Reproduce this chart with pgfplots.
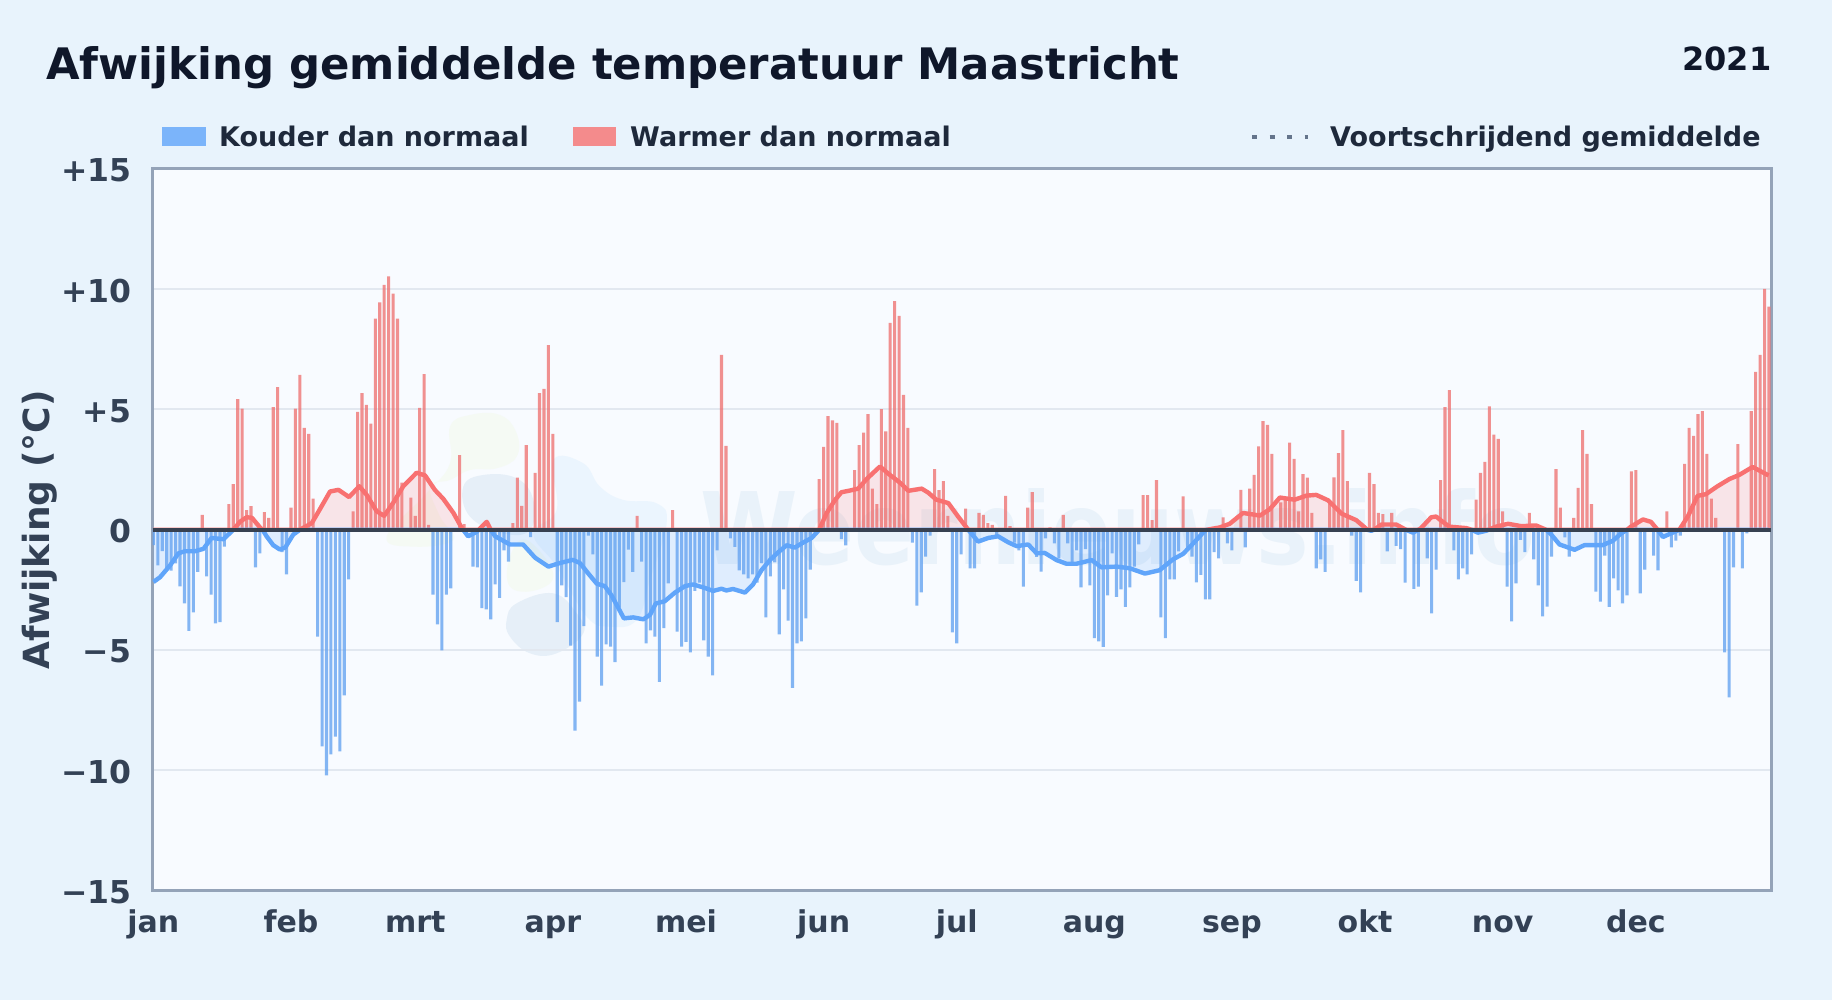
\documentclass[border=0pt]{standalone}
\usepackage{fontspec}
\usepackage{pgfplots}
\usepackage{pgfplotstable}
\pgfplotsset{compat=1.18}
\setmainfont{DejaVu Sans}[BoldFont={DejaVu Sans Bold}]
\definecolor{pagebg}{HTML}{E8F3FC}
\definecolor{plotbg}{HTML}{F8FBFF}
\definecolor{gridc}{HTML}{E2E8F0}
\definecolor{framec}{HTML}{94A3B8}
\definecolor{zeroc}{HTML}{374151}
\definecolor{redc}{HTML}{F87171}
\definecolor{bluec}{HTML}{60A5FA}
\definecolor{titlec}{HTML}{0F172A}
\definecolor{legc}{HTML}{1E293B}
\definecolor{tickc}{HTML}{334155}
\definecolor{wmc}{HTML}{E9F2FA}
\definecolor{blobg}{HTML}{F5FAF4}
\definecolor{blobb}{HTML}{EBF5FE}
\definecolor{blobd}{HTML}{E6EFF8}
\definecolor{dotc}{HTML}{64748B}
\pgfplotstableread{
d v
0 -2.17
1.5 -1.97
3.76 -1.48
5.63 -0.98
7.1 -0.89
9.4 -0.89
11.3 -0.79
13.1 -0.34
15.8 -0.39
18 0
19.5 0.33
21 0.52
22.2 0.5
24 0.1
24.6 0
25.5 -0.27
27 -0.64
28.5 -0.82
29.7 -0.74
31.5 -0.2
33 0
35.7 0.28
37.5 0.85
39.8 1.59
41.7 1.66
44.1 1.36
46.4 1.81
48.1 1.44
50.3 0.77
52 0.58
54.1 1.14
56.3 1.81
59.3 2.37
61.2 2.26
63.4 1.66
65.3 1.29
67.6 0.7
69.4 0.1
69.8 0
70.9 -0.27
72.8 -0.09
73.3 0
75.1 0.33
76 0
77 -0.27
80.3 -0.61
83.3 -0.61
86 -1.16
89 -1.53
91.6 -1.38
94.5 -1.25
96.1 -1.38
98 -1.82
99.9 -2.24
101.7 -2.34
103.2 -2.72
104.7 -3.23
106 -3.68
108.1 -3.64
110.4 -3.72
111.9 -3.53
113.2 -3.06
115.2 -2.97
117.5 -2.61
119.8 -2.34
121.6 -2.27
124.3 -2.42
126.1 -2.54
128 -2.45
129.1 -2.52
130.6 -2.46
133.3 -2.61
135.1 -2.27
137 -1.68
138.9 -1.26
140.8 -0.93
142.7 -0.64
144.5 -0.74
146.4 -0.53
148.3 -0.34
150 0
151.7 0.7
153.5 1.22
155 1.56
156.9 1.63
158.8 1.71
160.7 2.11
163.7 2.63
165.6 2.33
168.2 1.96
170.1 1.62
173.1 1.71
174.6 1.54
176.4 1.25
179.1 1.11
181.3 0.55
183.6 0
185.8 -0.49
188.1 -0.34
190.3 -0.27
192.6 -0.52
194.5 -0.68
197.1 -0.61
199 -0.98
200.8 -0.96
203.5 -1.26
205.7 -1.41
208 -1.41
211.4 -1.26
213.6 -1.56
217 -1.53
220 -1.6
223.4 -1.82
226.7 -1.68
229.7 -1.23
232 -1.0
234.3 -0.56
236.9 -0.04
237.3 0
240.3 0.1
242.5 0.25
245.5 0.7
249.3 0.59
251.5 0.85
253.8 1.34
257.1 1.25
259.8 1.42
262 1.45
264.7 1.22
267.7 0.67
271 0.4
272.9 0.1
273.5 0
274.4 -0.04
275 0
276.7 0.22
280 0.22
281.9 0.03
282.2 0
283.8 -0.12
285 0
285.6 0.07
287.9 0.52
289 0.55
290.5 0.33
292 0.13
295.8 0.07
297 0
298.4 -0.12
300.3 -0.04
300.8 0
302.5 0.13
305.2 0.25
308.2 0.15
311.5 0.18
313.4 0.03
313.8 0
314.9 -0.19
316.8 -0.61
320.2 -0.83
322.4 -0.64
326.5 -0.64
328.8 -0.46
330.7 -0.15
332 0
332.9 0.13
335.6 0.43
337.4 0.33
338.9 0
340.1 -0.3
341.9 -0.15
343.8 0
345.7 0.55
347.9 1.41
349.8 1.48
352.4 1.81
355.1 2.11
357.3 2.28
360.3 2.61
363.9 2.26
}\avgtable
\begin{document}
\begin{tikzpicture}[x=1pt,y=1pt]
\path[use as bounding box] (0,0) rectangle (1832,1000);
\fill[pagebg] (0,0) rectangle (1832,1000);
\fill[plotbg] (152.5,109.2) rectangle (1771,831.2);
% watermark
\begin{scope}[shift={(370,600)},x=0.3333pt,y=-0.3333pt]
\fill[blobg] plot[smooth cycle,tension=.7] coordinates {(240,80)(300,45)(390,45)(440,100)(440,170)(380,205)(300,210)(240,240)(180,260)(210,350)(250,420)(130,440)(50,410)(170,280)(240,190)};
\fill[blobg] plot[smooth cycle,tension=.7] coordinates {(420,470)(470,420)(550,520)(500,570)(420,560)};
\fill[blobb] plot[smooth cycle,tension=.7] coordinates {(550,180)(640,190)(690,260)(760,300)(860,310)(890,370)(840,540)(800,660)(720,680)(650,650)(560,500)(490,400)(560,330)};
\fill[blobd] plot[smooth cycle,tension=.7] coordinates {(280,260)(340,225)(440,235)(490,300)(480,390)(400,400)(300,350)};
\fill[blobd] plot[smooth cycle,tension=.7] coordinates {(410,660)(440,610)(550,580)(620,640)(640,700)(560,760)(480,760)(420,710)};
\end{scope}
\node[anchor=base west,inner sep=0pt,text=wmc,xscale=.885,font=\fontsize{100}{100}\selectfont\bfseries] at (700,435) {Weernieuws.info};
% titles
\node[anchor=base west,inner sep=0pt,text=titlec,font=\fontsize{43.4}{44}\selectfont\bfseries] at (46,920) {Afwijking gemiddelde temperatuur Maastricht};
\node[anchor=base east,inner sep=0pt,text=titlec,font=\fontsize{32}{33}\selectfont\bfseries] at (1771.5,929) {2021};
% legend
\fill[bluec,opacity=.8] (162,854) rectangle (206,873);
\fill[redc,opacity=.8] (573,854) rectangle (616,873);
\node[anchor=base west,inner sep=0pt,text=legc,font=\fontsize{27}{27}\selectfont\bfseries] at (219,853) {Kouder dan normaal};
\node[anchor=base west,inner sep=0pt,text=legc,font=\fontsize{27}{27}\selectfont\bfseries] at (630,853) {Warmer dan normaal};
\draw[line width=4.5pt,dash pattern=on 5pt off 12.5pt,color=dotc] (1252,863) -- (1308,863);
\node[anchor=base west,inner sep=0pt,text=legc,font=\fontsize{27}{27}\selectfont\bfseries] at (1330,853) {Voortschrijdend gemiddelde};
\node[rotate=90,anchor=center,inner sep=0pt,text=tickc,font=\fontsize{36}{36}\selectfont\bfseries] at (40,470) {Afwijking (°C)};
\begin{axis}[
  at={(152.5pt,109.2pt)},anchor=south west,
  scale only axis,width=1618.5pt,height=722pt,
  xmin=-0.2,xmax=364.45,ymin=-15,ymax=15,
  axis line style={draw=framec,line width=3pt},
  major tick length=0pt,
  ytick={-15,-10,-5,0,5,10,15},
  yticklabels={−15,−10,−5,0,+5,+10,+15},
  xtick={0,31,59,90,120,151,181,212,243,273,304,334},
  xticklabels={jan,feb,mrt,apr,mei,jun,jul,aug,sep,okt,nov,dec},
  ymajorgrids,grid style={draw=gridc,line width=2pt},
  xmajorgrids=false,
  yticklabel style={font=\fontsize{31.5}{32}\selectfont\bfseries,text=tickc,inner sep=0pt,xshift=-21pt,yshift=-1.5pt},
  xticklabel style={font=\fontsize{30}{30}\selectfont\bfseries,text=tickc,inner sep=0pt,yshift=-19.5pt,text height=22pt,text depth=7pt},
]
% moving average fills
\addplot[draw=none,fill=redc,fill opacity=.16,y filter/.expression={max(y,0)}] table[x=d,y=v] {\avgtable} \closedcycle;
\addplot[draw=none,fill=bluec,fill opacity=.16,y filter/.expression={min(y,0)}] table[x=d,y=v] {\avgtable} \closedcycle;
% warm bars
\addplot[ybar,bar width=3.1pt,bar shift=0pt,fill=redc!92!gray,fill opacity=.78,draw=none] coordinates {
(11,0.62)(17,1.07)(18,1.9)(19,5.43)(20,5.03)(21,0.82)(22,0.98)(25,0.73)(26,0.5)(27,5.1)(28,5.93)
(31,0.92)(32,5.03)(33,6.44)(34,4.23)(35,3.99)(36,1.29)(45,0.77)(46,4.9)(47,5.68)(48,5.19)(49,4.41)
(50,8.77)(51,9.45)(52,10.18)(53,10.53)(54,9.81)(55,8.77)(56,1.96)(58,1.34)(59,0.58)(60,5.07)(61,6.47)(62,0.2)
(69,3.1)(70,0.24)(81,0.28)(82,2.17)(83,0.99)(84,3.52)(86,2.37)(87,5.68)(88,5.85)(89,7.67)(90,3.99)
(109,0.58)(117,0.82)(128,7.27)(129,3.49)(150,2.11)(151,3.44)(152,4.72)(153,4.55)(154,4.44)
(158,2.48)(159,3.52)(160,4.04)(161,4.81)(162,1.71)(163,1.07)(164,5.01)(165,4.09)(166,8.6)(167,9.5)(168,8.89)(169,5.61)(170,4.23)
(176,2.52)(177,1.65)(178,2.02)(179,0.58)(183,0.88)(186,0.7)(187,0.62)(188,0.28)(189,0.2)(192,1.41)(193,0.15)
(197,0.92)(198,1.57)(202,0.1)(205,0.62)(223,1.44)(224,1.44)(225,0.4)(226,2.06)(232,1.39)(241,0.52)
(245,1.66)(247,1.71)(248,2.28)(249,3.47)(250,4.51)(251,4.36)(252,3.15)(254,1.14)(255,1.26)(256,3.62)(257,2.95)(258,0.77)(259,2.31)(260,2.17)(261,0.7)
(265,1.1)(266,2.18)(267,3.19)(268,4.14)(269,2.02)(274,2.36)(275,1.9)(276,0.7)(277,0.65)(279,0.7)
(290,2.06)(291,5.1)(292,5.8)(298,1.25)(299,2.37)(300,2.82)(301,5.13)(302,3.95)(303,3.78)(304,0.77)
(310,0.7)(316,2.52)(317,0.92)(320,0.5)(321,1.74)(322,4.14)(323,3.15)(324,1.07)(333,2.43)(334,2.48)(341,0.77)
(345,2.74)(346,4.23)(347,3.9)(348,4.81)(349,4.93)(350,3.15)(351,1.29)(352,0.5)(357,3.56)(360,4.93)(361,6.56)(362,7.27)(363,10.01)(364,9.27)
};
% cold bars
\addplot[ybar,bar width=3.1pt,bar shift=0pt,fill=bluec!92!gray,fill opacity=.78,draw=none] coordinates {
(0,-0.64)(1,-1.48)(2,-0.89)(3,-1.7)(4,-1.7)(5,-1.4)(6,-2.35)(7,-3.06)(8,-4.2)(9,-3.43)(10,-1.75)
(12,-1.94)(13,-2.69)(14,-3.89)(15,-3.84)(16,-0.7)(23,-1.56)(24,-0.98)(29,-0.93)(30,-1.85)
(37,-4.44)(38,-9.0)(39,-10.2)(40,-9.33)(41,-8.59)(42,-9.21)(43,-6.88)(44,-2.06)
(63,-2.69)(64,-3.93)(65,-5.01)(66,-2.69)(67,-2.43)(72,-1.53)(73,-1.56)(74,-3.26)(75,-3.31)(76,-3.72)(77,-2.27)(78,-2.83)(79,-0.86)(80,-1.32)(85,-0.3)
(91,-3.84)(92,-2.31)(93,-2.8)(94,-4.81)(95,-8.34)(96,-7.14)(97,-4.0)(98,-0.24)(99,-1.02)(100,-5.27)(101,-6.47)(102,-4.76)(103,-4.85)(104,-5.5)(105,-3.23)(106,-2.17)(107,-0.82)(108,-1.75)
(110,-1.32)(111,-4.72)(112,-4.18)(113,-4.44)(114,-6.32)(115,-4.09)(116,-2.23)(118,-4.23)(119,-4.85)(120,-4.66)(121,-5.09)(122,-2.54)(123,-2.2)(124,-4.6)(125,-5.27)(126,-6.05)(127,-0.86)
(130,-0.36)(131,-0.71)(132,-1.69)(133,-1.85)(134,-2.02)(135,-1.85)(136,-2.2)(137,-1.38)(138,-3.64)(139,-1.94)(140,-1.35)(141,-4.35)(142,-2.48)(143,-3.77)(144,-6.57)(145,-4.72)(146,-4.64)(147,-3.68)(148,-1.65)
(155,-0.39)(156,-0.65)(171,-0.53)(172,-3.15)(173,-2.6)(174,-1.11)(175,-0.24)(180,-4.26)(181,-4.72)(182,-1.02)(184,-1.6)(185,-1.6)
(190,-0.34)(194,-0.53)(195,-0.86)(196,-2.36)(199,-1.13)(200,-1.74)(201,-0.36)(203,-0.56)(204,-1.19)(206,-0.56)(207,-1.38)(208,-0.86)(209,-2.39)(210,-0.8)(211,-2.31)(212,-4.5)(213,-4.64)(214,-4.87)(215,-2.72)(216,-0.98)(217,-2.79)(218,-2.48)(219,-3.2)(220,-2.39)(221,-1.53)(222,-0.61)
(227,-3.64)(228,-4.5)(229,-2.06)(230,-2.06)(231,-0.9)(233,-0.74)(234,-1.11)(235,-2.18)(236,-1.87)(237,-2.89)(238,-2.89)(239,-0.93)(240,-1.19)(242,-0.56)(243,-0.86)(246,-0.73)
(262,-1.6)(263,-1.23)(264,-1.75)(270,-0.24)(271,-2.12)(272,-2.6)(278,-0.9)(280,-0.67)(281,-0.8)(282,-2.2)(284,-2.46)(285,-2.36)(287,-1.19)(288,-3.47)(289,-1.65)
(293,-0.86)(294,-2.06)(295,-1.6)(296,-1.85)(297,-1.02)(305,-2.36)(306,-3.81)(307,-2.23)(308,-0.42)(309,-0.93)(311,-1.23)(312,-2.31)(313,-3.6)(314,-3.19)(315,-1.11)(318,-0.31)(319,-1.11)
(325,-2.57)(326,-2.98)(327,-1.07)(328,-3.2)(329,-2.02)(330,-2.52)(331,-3.06)(332,-2.73)(335,-2.64)(336,-1.65)(338,-1.07)(339,-1.69)(342,-0.73)(343,-0.45)(344,-0.24)
(354,-5.09)(355,-6.96)(356,-1.56)(358,-1.6)(359,-0.15)
};
% moving average lines
\addplot[draw=bluec,line width=4.4pt,line join=round,y filter/.expression={min(y,0)}] table[x=d,y=v] {\avgtable};
\addplot[draw=redc,line width=4.4pt,line join=round,y filter/.expression={max(y,0)}] table[x=d,y=v] {\avgtable};
\addplot[draw=zeroc,line width=3.8pt] coordinates {(-0.2,0)(364.45,0)};
\end{axis}
\end{tikzpicture}
\end{document}
